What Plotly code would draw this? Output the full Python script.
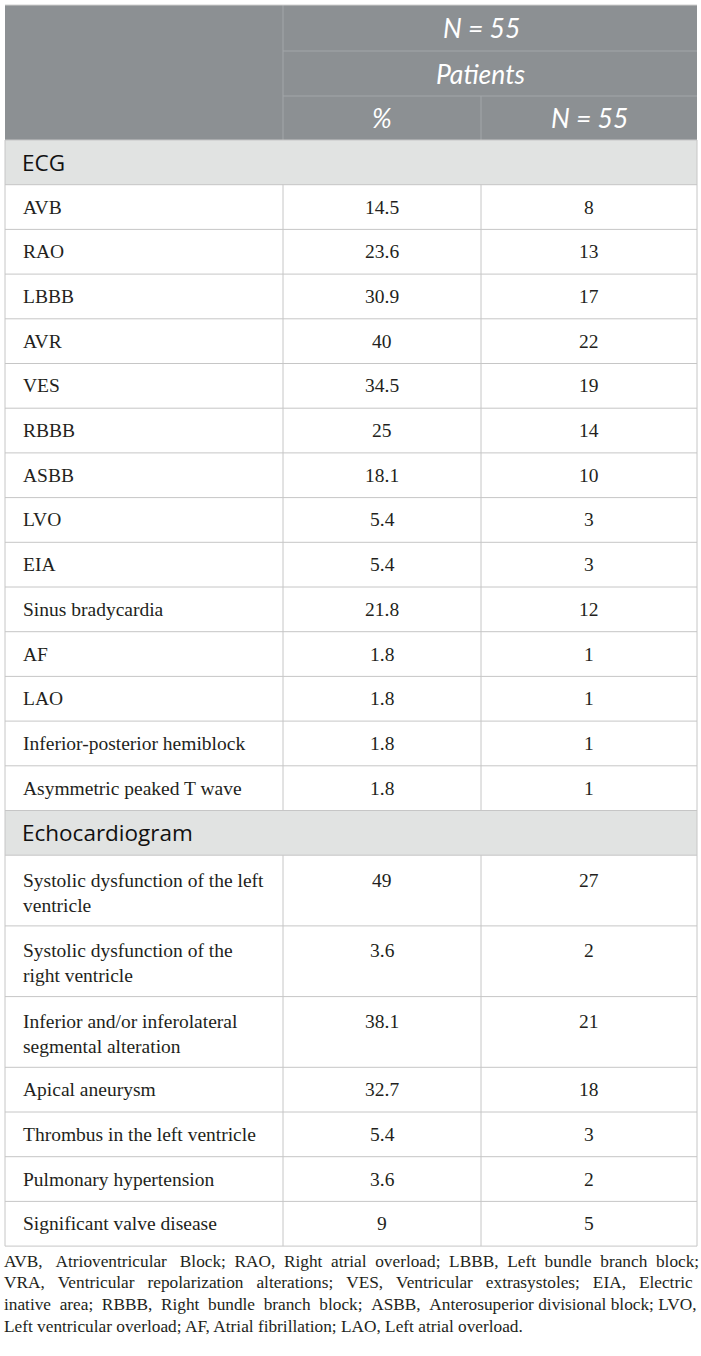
import plotly.graph_objects as go

# table content
header_top = "N = 55"
header_mid = "Patients"
col_heads = ["%", "N = 55"]

sections = ["ECG", "Echocardiogram"]

ecg_labels = ["AVB", "RAO", "LBBB", "AVR", "VES", "RBBB", "ASBB", "LVO", "EIA",
              "Sinus bradycardia", "AF", "LAO", "Inferior-posterior hemiblock",
              "Asymmetric peaked T wave"]
ecg_pct = [14.5, 23.6, 30.9, 40, 34.5, 25, 18.1, 5.4, 5.4, 21.8, 1.8, 1.8, 1.8, 1.8]
ecg_n = [8, 13, 17, 22, 19, 14, 10, 3, 3, 12, 1, 1, 1, 1]

echo_labels = ["Systolic dysfunction of the left<br>ventricle",
               "Systolic dysfunction of the<br>right ventricle",
               "Inferior and/or inferolateral<br>segmental alteration",
               "Apical aneurysm", "Thrombus in the left ventricle",
               "Pulmonary hypertension", "Significant valve disease"]
echo_pct = [49, 3.6, 38.1, 32.7, 5.4, 3.6, 9]
echo_n = [27, 2, 21, 18, 3, 2, 5]

footnote = [
    "AVB, Atrioventricular Block; RAO, Right atrial overload; LBBB, Left bundle branch block;",
    "VRA, Ventricular repolarization alterations; VES, Ventricular extrasystoles; EIA, Electric",
    "inative area; RBBB, Right bundle branch block; ASBB, Anterosuperior divisional block; LVO,",
    "Left ventricular overload; AF, Atrial fibrillation; LAO, Left atrial overload.",
]
# extra non-breaking spaces per line to fake justified text
foot_pad = [13, 16, 8, 0]

# geometry (pixels)
W, H = 701, 1356
X0, X1, X2, X3 = 5, 283, 481, 697
HEAD_ROWS = [5, 51, 96, 140]
ROW_H = 44.7
ROW_H2 = 70.7

HEAD_BG = "#8c9093"
HEAD_LINE = "#a2a6a9"
SEC_BG = "#e1e3e2"
GRID = "#c6c6c6"
TXT = "#231f20"

SERIF = "Liberation Serif"
SANS = "Open Sans"
BODY = 19.5

shapes = []
annots = []


def rect(x0, y0, x1, y1, fill):
    shapes.append(dict(type="rect", x0=x0, x1=x1, y0=y0, y1=y1, fillcolor=fill,
                       line=dict(width=0), layer="below"))


def line(x0, y0, x1, y1, color=GRID):
    shapes.append(dict(type="line", x0=x0, x1=x1, y0=y0, y1=y1,
                       line=dict(color=color, width=1)))


def text(x, y, s, size, family, color=TXT, anchor="center", italic=False):
    annots.append(dict(x=x, y=y, text=s, showarrow=False, xanchor=anchor, yanchor="middle",
                       align=anchor if anchor != "center" else "center",
                       font=dict(size=size, family=family, color=color,
                                 style="italic" if italic else "normal")))


def justify(s, extra):
    words = s.split(" ")
    gaps = len(words) - 1
    out = words[0]
    for i, w in enumerate(words[1:]):
        k = extra // gaps + (1 if i < extra % gaps else 0)
        out += " " + "\u00a0" * k + w
    return out


# header block
top, r1, r2, bot = HEAD_ROWS
rect(X0, top, X3, bot, HEAD_BG)
line(X1, top, X1, bot, HEAD_LINE)
line(X1, r1, X3, r1, HEAD_LINE)
line(X1, r2, X3, r2, HEAD_LINE)
line(X2, r2, X2, bot, HEAD_LINE)
text(X2, (top + r1) / 2, header_top, 26.5, "Lato", "white", italic=True)
text(X2, (r1 + r2) / 2, header_mid, 26.5, "Lato", "white", italic=True)
text((X1 + X2) / 2, (r2 + bot) / 2, col_heads[0], 26.5, "Lato", "white", italic=True)
text((X2 + X3) / 2, (r2 + bot) / 2, col_heads[1], 26.5, "Lato", "white", italic=True)

# body rows
y = bot
groups = [(sections[0], ecg_labels, ecg_pct, ecg_n),
          (sections[1], echo_labels, echo_pct, echo_n)]
for name, labels, pct, n in groups:
    rect(X0, y, X3, y + ROW_H, SEC_BG)
    line(X0, y, X3, y)
    text(20, y + ROW_H / 2, name, 22.5, SANS, "#111111", anchor="left")
    y += ROW_H
    for lab, p, k in zip(labels, pct, n):
        two = "<br>" in lab
        h = ROW_H2 if two else ROW_H
        line(X0, y, X3, y)
        line(X1, y, X1, y + h)
        line(X2, y, X2, y + h)
        c = y + h / 2 + (2 if two else 0)
        text(21, c, lab, BODY, SERIF, anchor="left")
        vy = c - 12.5 if two else c
        text((X1 + X2) / 2, vy, f"{p:g}", BODY, SERIF)
        text((X2 + X3) / 2, vy, f"{k:g}", BODY, SERIF)
        y += h
line(X0, y, X3, y)
line(X0, bot, X0, y)
line(X3, bot, X3, y)
line(X0, top, X3, top, "#d0d0d0")

# footnote
fy = y + 15
for i, s in enumerate(footnote):
    text(2, fy + i * 21.7, justify(s, foot_pad[i]), 17.3, SERIF, anchor="left")

fig = go.Figure()
fig.update_layout(
    width=W, height=H, autosize=False,
    margin=dict(l=0, r=0, t=0, b=0),
    paper_bgcolor="white", plot_bgcolor="white",
    xaxis=dict(range=[0, W], visible=False, fixedrange=True),
    yaxis=dict(range=[H, 0], visible=False, fixedrange=True),
    shapes=shapes, annotations=annots, showlegend=False,
)
fig.write_html("out.html", config={"displayModeBar": False},
               post_script="document.body.style.margin='0';")
